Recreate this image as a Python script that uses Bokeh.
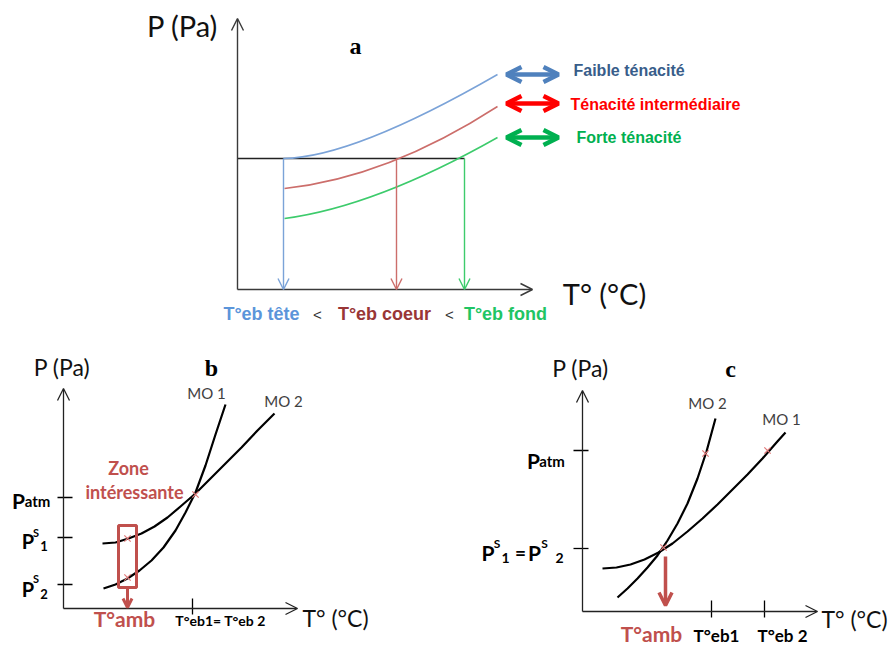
from bokeh.plotting import figure
from bokeh.models import Range1d, Arrow, OpenHead, ColumnDataSource, Spacer
from bokeh.layouts import column, row
from bokeh.core.properties import value
from bokeh.embed import file_html
from bokeh.resources import INLINE

SANS = "Lato"
ARIAL = "Liberation Sans"
SERIF = "Liberation Serif"

# ---------------- Panel a : tenacity (local units, origin = axis crossing) -------------
a_axis_T_end = 295
a_axis_P_end = 271
a_P_ref = 131                      # horizontal pressure line
a_names = ["Faible ténacité", "Ténacité intermédiaire", "Forte ténacité"]
a_curve_colors = ["#7BA3D8", "#CC6E6B", "#3DCB6C"]
a_T0 = [46, 47, 47]
a_P0 = [131, 101, 71]
a_Tc = [116, 150, 138]
a_Pc = [132, 112, 83]
a_T1 = [260, 260, 260]
a_P1 = [215, 183, 152]
a_teb = [46, 159, 227]
a_teb_labels = ["T°eb tête", "T°eb coeur", "T°eb fond"]
a_teb_label_T = [24, 147, 268]
a_teb_label_colors = ["#5B95DA", "#993636", "#1FC564"]
a_lt_T = [80, 212]
a_legend_P = [215, 186, 152]
a_legend_T = [269, 321]
a_legend_arrow_colors = ["#4F81BD", "#FF0000", "#00B050"]
a_legend_text_colors = ["#385D8A", "#FF0000", "#00B050"]
a_legend_text_T = [336, 333, 339]

# ---------------- Panel b -------------
b_axis_T_end = 234
b_axis_P_end = 220
b_mo1_T = [40, 52, 64, 76, 88, 100, 112, 122, 132, 142, 152, 162]
b_mo1_P = [20, 24, 30, 38, 48, 61, 78, 96, 116, 143, 174, 204]
b_mo2_T = [39, 52, 65, 78, 91, 104, 117, 132, 147, 162, 178, 194, 211]
b_mo2_P = [65, 66, 70, 75, 82, 91, 102, 115, 130, 145, 161, 178, 195]
b_patm = 111
b_ps1 = 71
b_ps2 = 24
b_teb = 129
b_tamb = 64
b_zone_T = [55, 73]
b_zone_P = [21, 83]
b_cross_T = [64, 64, 132]
b_cross_P = [31, 70, 114]

# ---------------- Panel c -------------
c_axis_T_end = 235
c_axis_P_end = 221
c_mo2_T = [35, 45, 55, 65, 75, 85, 95, 105, 115, 124, 133]
c_mo2_P = [14, 23, 33, 44, 56, 71, 88, 108, 133, 160, 193]
c_mo1_T = [20, 34, 48, 62, 76, 90, 105, 120, 135, 150, 165, 180, 194, 203]
c_mo1_P = [43, 44, 47, 52, 59, 68, 80, 93, 107, 122, 137, 153, 169, 179]
c_patm = 161
c_ps = 63
c_teb = [129, 182]
c_tamb = 83
c_cross_T = [81, 123, 185]
c_cross_P = [64, 158, 161]

RED = "#C0504D"
CROSS = "#E07A7A"


def make_fig(w, h, x0, x1, y0, y1):
    p = figure(width=w, height=h, x_range=Range1d(x0, x1), y_range=Range1d(y0, y1),
               output_backend="svg", toolbar_location=None, min_border=0,
               x_axis_type=None, y_axis_type=None)
    p.grid.visible = False
    p.outline_line_color = None
    p.background_fill_color = "white"
    p.border_fill_color = "white"
    return p


def txt(p, xs, ys, texts, size, color="black", font=SANS, style="normal",
        align="center", baseline="middle"):
    p.text(x=xs, y=ys, text=texts, text_font=value(font), text_font_size=size,
           text_color=color, text_font_style=style, text_align=align,
           text_baseline=baseline)


def arrow(p, xs, ys, xe, ye, color, lw, size, both=False):
    head = OpenHead(size=size, line_width=lw, line_color=color)
    kw = {}
    if both:
        kw["start"] = OpenHead(size=size, line_width=lw, line_color=color)
    p.add_layout(Arrow(end=head, x_start=xs, y_start=ys, x_end=xe, y_end=ye,
                       line_color=color, line_width=lw, **kw))


# ======================= Panel a =======================
fa = make_fig(893, 338, -237, 656, -49, 289)
arrow(fa, 0, 0, a_axis_T_end, 0, "#3A3A3A", 1.4, 12)
arrow(fa, 0, 0, 0, a_axis_P_end, "#3A3A3A", 1.4, 12)
fa.segment(x0=[0], y0=[a_P_ref], x1=[a_teb[2]], y1=[a_P_ref], line_color="#222222", line_width=1.4)
src_a = ColumnDataSource(dict(x0=a_T0, y0=a_P0, cx=a_Tc, cy=a_Pc, x1=a_T1, y1=a_P1, c=a_curve_colors))
fa.quadratic(x0="x0", y0="y0", cx="cx", cy="cy", x1="x1", y1="y1", line_color="c",
             line_width=1.5, source=src_a)
for t, col in zip(a_teb, a_curve_colors):
    arrow(fa, t, a_P_ref, t, 0, col, 1.4, 11)
txt(fa, a_teb_label_T, [-24] * 3, a_teb_labels, "18px", a_teb_label_colors, ARIAL, "bold")
txt(fa, a_lt_T, [-25, -25], ["<", "<"], "15px", "#333333", ARIAL)
for yv, col in zip(a_legend_P, a_legend_arrow_colors):
    arrow(fa, a_legend_T[0], yv, a_legend_T[1], yv, col, 4.5, 15, both=True)
txt(fa, a_legend_text_T, [219, 185, 152], a_names, "16px", a_legend_text_colors, ARIAL,
    "bold", align="left")
txt(fa, [-55], [264], ["P (Pa)"], "29px", "#111111")
txt(fa, [367], [-4], ["T° (°C)"], "29px", "#111111")
txt(fa, [118], [244], ["a"], "24px", "black", SERIF, "bold")

# ======================= Panel b =======================
fb = make_fig(388, 310, -63, 325, -40, 270)
arrow(fb, 0, 0, b_axis_T_end, 0, "#222222", 1.3, 12)
arrow(fb, 0, 0, 0, b_axis_P_end, "#222222", 1.3, 12)
fb.segment(x0=[-6] * 3, y0=[b_patm, b_ps1, b_ps2], x1=[9] * 3, y1=[b_patm, b_ps1, b_ps2],
           line_color="black", line_width=1.3)
fb.segment(x0=[b_teb], y0=[-6], x1=[b_teb], y1=[10], line_color="black", line_width=1.3)
fb.line(b_mo1_T, b_mo1_P, line_color="black", line_width=2.2, line_join="round")
fb.line(b_mo2_T, b_mo2_P, line_color="black", line_width=2.2, line_join="round")
fb.scatter(b_cross_T, b_cross_P, marker="x", size=9, line_color=CROSS, line_width=1.2)
fb.quad(left=[b_zone_T[0]], right=[b_zone_T[1]], bottom=[b_zone_P[0]], top=[b_zone_P[1]],
        fill_color=None, line_color=RED, line_width=3)
arrow(fb, b_tamb, b_zone_P[0], b_tamb, 1, RED, 3, 9)
txt(fb, [-1.5], [242], ["P (Pa)"], "23px", "#111111")
txt(fb, [272], [-9], ["T° (°C)"], "23px", "#111111")
txt(fb, [148], [241], ["b"], "24px", "black", SERIF, "bold")
txt(fb, [143, 220], [216, 208], ["MO 1", "MO 2"], "15px", "#404040")
txt(fb, [65, 71], [141, 117], ["Zone", "intéressante"], "18px", RED, SANS, "bold")
txt(fb, [61], [-10], ["T°amb"], "21px", RED, SANS, "bold")
txt(fb, [157], [-12], ["T°eb1= T°eb 2"], "14px", "black", SANS, "bold")
# y tick labels
txt(fb, [-45], [108], ["P"], "21px", "black", SANS, "bold", baseline="alphabetic")
txt(fb, [-26], [108], ["atm"], "15px", "black", SANS, "bold", baseline="alphabetic")
txt(fb, [-35.5, -35.5], [68, 20], ["P", "P"], "20px", "black", SANS, "bold", baseline="alphabetic")
txt(fb, [-27.5, -27.5], [76, 30], ["S", "S"], "11px", "black", SANS, "bold", baseline="alphabetic")
txt(fb, [-19.5, -19.5], [63, 15], ["1", "2"], "13px", "black", SANS, "bold", baseline="alphabetic")

# ======================= Panel c =======================
fc = make_fig(425, 310, -114, 311, -37, 273)
arrow(fc, 0, 0, c_axis_T_end, 0, "#222222", 1.3, 12)
arrow(fc, 0, 0, 0, c_axis_P_end, "#222222", 1.3, 12)
fc.segment(x0=[-9] * 2, y0=[c_patm, c_ps], x1=[6] * 2, y1=[c_patm, c_ps],
           line_color="black", line_width=1.3)
fc.segment(x0=c_teb, y0=[-6, -6], x1=c_teb, y1=[11, 11], line_color="black", line_width=1.3)
fc.line(c_mo2_T, c_mo2_P, line_color="black", line_width=2.2, line_join="round")
fc.line(c_mo1_T, c_mo1_P, line_color="black", line_width=2.2, line_join="round")
fc.scatter(c_cross_T, c_cross_P, marker="x", size=9, line_color=CROSS, line_width=1.2)
arrow(fc, c_tamb, 55, c_tamb, 6, RED, 3.5, 13)
txt(fc, [-2], [244], ["P (Pa)"], "23px", "#111111")
txt(fc, [272], [-7], ["T° (°C)"], "23px", "#111111")
txt(fc, [148], [243], ["c"], "24px", "black", SERIF, "bold")
txt(fc, [125, 199], [209, 193], ["MO 2", "MO 1"], "15px", "#404040")
txt(fc, [69], [-22], ["T°amb"], "21px", RED, SANS, "bold")
txt(fc, [134, 200], [-24, -24], ["T°eb1", "T°eb 2"], "17px", "black", SANS, "bold")
txt(fc, [-49], [151], ["P"], "21px", "black", SANS, "bold", baseline="alphabetic")
txt(fc, [-30.5], [151], ["atm"], "15px", "black", SANS, "bold", baseline="alphabetic")
txt(fc, [-94.5, -48], [59, 59], ["P", "P"], "21px", "black", SANS, "bold", baseline="alphabetic")
txt(fc, [-85.5, -38], [68, 68], ["S", "S"], "12px", "black", SANS, "bold", baseline="alphabetic")
txt(fc, [-77, -23], [54, 54], ["1", "2"], "14px", "black", SANS, "bold", baseline="alphabetic")
txt(fc, [-62], [59], ["="], "19px", "black", SANS, "bold", baseline="alphabetic")

layout = column(fa, row(fb, Spacer(width=80, height=310), fc))
open("out.html", "w").write(file_html(layout, INLINE))
